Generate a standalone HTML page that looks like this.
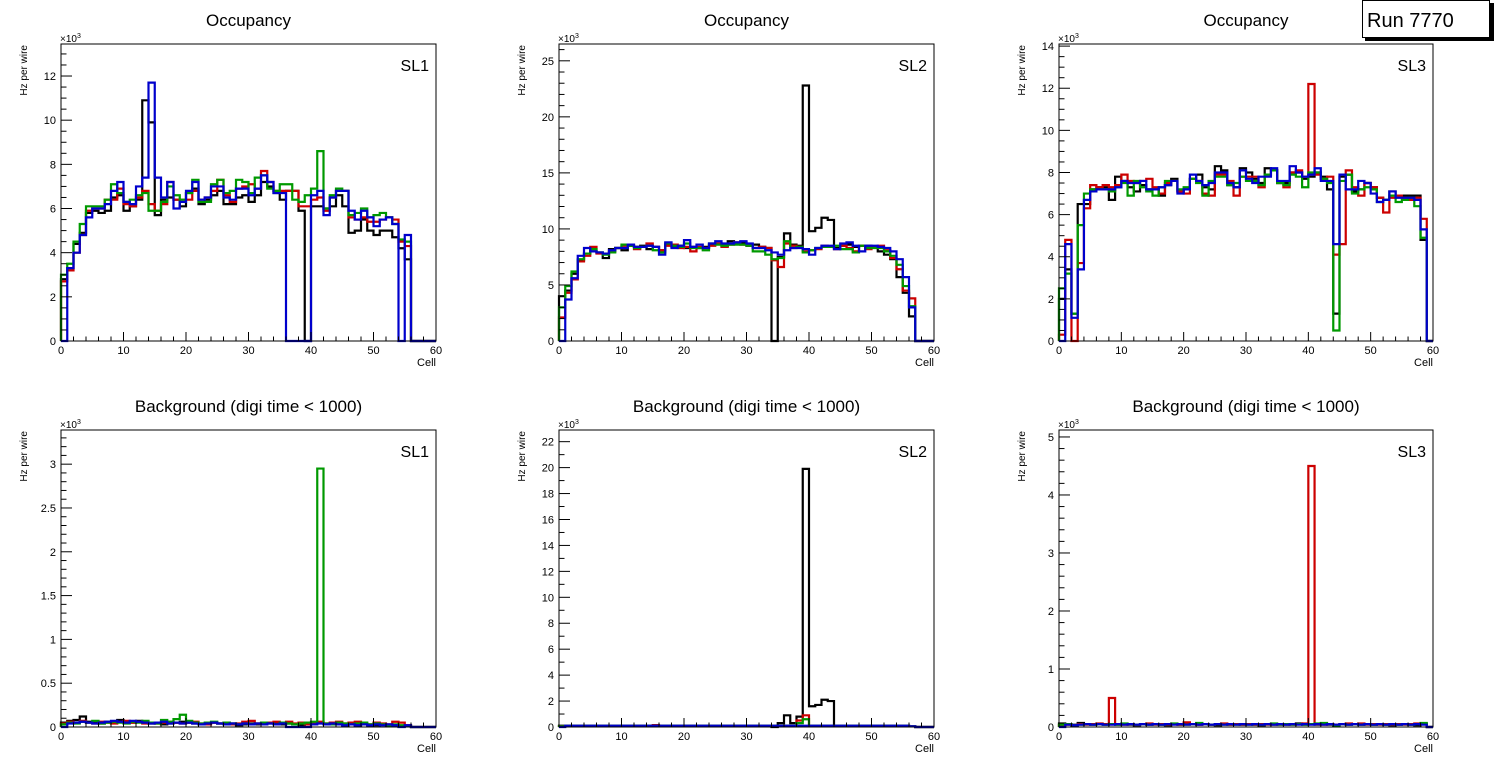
<!DOCTYPE html>
<html><head><meta charset="utf-8"><style>
body{margin:0;background:#fff;width:1496px;height:772px;overflow:hidden;font-family:"Liberation Sans",sans-serif}
svg{position:absolute;left:0;top:0}
</style></head><body>
<svg id="c" width="1496" height="772" xmlns="http://www.w3.org/2000/svg"></svg>
<script>
// ---- data (units of 10^3 Hz per wire), 60 cells each ----
const cells = 60;
const occ1_black=[2.8,3.3,4.4,4.9,5.8,5.9,5.8,5.9,6.5,6.6,5.9,6.1,6.4,10.9,9.9,5.7,6.4,6.5,6.4,6.1,6.7,6.9,6.2,6.4,6.6,6.8,6.2,6.2,6.5,6.6,6.3,6.6,7.2,7.0,6.7,6.4,6.8,6.8,5.9,0,6.1,6.1,6.0,6.1,6.6,6.1,4.9,5.0,5.5,5.0,4.8,5.0,5.0,4.7,4.2,3.7,0,0,0,0];
const occ1_red=[2.7,3.2,4.0,4.8,5.9,6.0,6.0,6.4,6.4,6.9,6.2,6.1,6.5,6.8,6.2,5.9,6.2,7.2,6.4,6.4,6.4,6.8,6.4,6.5,6.8,7.3,6.6,6.3,6.9,7.0,7.1,6.9,7.7,7.2,6.8,6.8,6.8,6.8,6.1,6.1,6.4,6.5,5.9,6.5,6.8,6.8,5.6,5.5,5.6,5.4,5.4,5.5,5.6,5.5,4.5,4.3,0,0,0,0];
const occ1_green=[3.0,3.5,4.5,5.3,6.1,6.1,6.1,6.4,7.1,6.7,6.3,6.4,6.6,6.7,5.9,5.9,6.3,7.0,6.6,6.4,6.7,7.3,6.3,6.3,7.1,7.3,6.7,6.8,7.3,7.2,6.7,7.4,7.5,6.9,6.8,7.1,7.1,6.4,6.3,6.6,6.9,8.6,6.0,6.6,6.9,6.8,5.7,5.8,6.0,5.6,5.7,5.8,5.6,5.3,4.6,4.5,0,0,0,0];
const occ1_blue=[0,3.3,4.0,4.8,5.6,6.0,6.0,6.2,6.8,7.2,6.3,6.2,7.0,7.4,11.7,7.4,6.5,7.2,6.0,6.3,6.8,7.2,6.4,6.5,7.0,7.0,6.5,6.4,6.9,6.9,6.6,6.9,7.5,7.2,6.7,6.7,0,0,0,0,6.6,6.8,5.7,6.5,6.8,6.8,5.9,5.5,5.9,5.6,5.2,5.5,5.6,5.3,0,4.8,0,0,0,0];

const occ2_black=[4.0,4.5,6.0,7.2,7.8,8.0,7.9,7.4,8.2,8.3,8.1,8.5,8.4,8.5,8.2,8.4,8.1,8.6,8.4,8.5,8.3,8.4,8.3,8.4,8.6,8.7,8.5,8.9,8.7,8.8,8.5,8.6,8.4,8.3,0,7.5,9.6,8.6,8.5,22.8,9.8,10.1,11.0,10.8,8.3,8.5,8.6,8.4,8.5,8.5,8.4,8.0,7.7,7.3,5.7,4.3,2.2,0,0,0];
const occ2_red=[2.1,4.3,5.5,7.1,7.6,8.4,7.8,7.8,8.0,8.3,8.5,8.5,8.2,8.4,8.7,8.4,8.1,8.5,8.6,8.3,8.4,8.0,8.4,8.3,8.5,8.7,8.4,8.6,8.8,8.6,8.5,8.3,8.4,8.3,7.2,6.6,8.7,8.5,8.4,8.0,8.1,8.2,8.5,8.4,8.2,8.5,8.3,8.0,8.5,8.2,8.4,8.5,8.1,7.4,6.4,4.5,3.8,0,0,0];
const occ2_green=[3.0,4.9,6.2,7.3,7.8,8.2,7.9,7.7,7.9,8.3,8.6,8.5,8.3,8.4,8.5,8.1,7.9,8.7,8.5,8.4,8.7,8.3,8.3,8.1,8.7,8.6,8.5,8.6,8.6,8.6,8.5,8.0,8.0,7.7,7.3,7.4,8.9,8.3,8.4,7.9,8.1,8.3,8.4,8.4,8.5,8.2,8.2,7.9,8.5,8.3,8.3,8.3,8.0,7.6,6.8,4.9,3.1,0,0,0];
const occ2_blue=[0,3.7,5.6,7.6,8.3,8.0,7.9,7.8,8.1,8.3,8.3,8.6,8.4,8.4,8.5,8.4,7.7,8.8,8.3,8.5,9.0,8.4,8.6,8.3,8.7,8.9,8.7,8.7,8.8,8.9,8.7,8.3,8.3,8.1,7.9,7.7,8.1,8.3,8.3,8.2,7.7,8.3,8.5,8.5,8.2,8.7,8.8,8.5,8.0,8.5,8.5,8.4,8.3,8.0,7.3,5.7,3.0,0,0,0];

const occ3_black=[2.0,3.4,1.3,6.5,6.5,7.2,7.3,7.3,6.7,7.8,7.6,7.3,7.1,7.4,7.2,7.2,6.9,7.4,7.7,7.1,7.2,7.7,7.9,7.3,7.2,8.3,8.1,7.4,7.3,8.2,8.0,7.7,7.5,8.2,8.1,7.5,7.5,8.0,8.0,7.7,7.8,8.0,7.8,7.2,1.3,7.8,7.9,7.1,7.2,7.5,7.3,6.8,6.7,7.1,6.9,6.9,6.9,6.9,4.8,0];
const occ3_red=[0.3,4.8,0,3.7,6.3,7.4,7.3,7.4,7.3,7.4,7.9,7.6,7.5,7.6,7.7,7.3,7.0,7.5,7.6,7.1,7.0,7.7,7.6,7.0,6.9,7.9,7.9,7.6,6.9,7.8,7.8,7.8,7.3,7.9,8.1,7.5,7.3,8.0,8.1,7.8,12.2,7.9,7.7,7.8,4.1,4.6,8.1,7.3,6.9,7.5,7.3,6.8,6.1,6.8,6.9,6.8,6.7,6.8,5.8,0];
const occ3_green=[2.5,3.2,1.3,5.5,7.0,7.2,7.2,7.2,7.1,7.3,7.5,6.9,7.6,7.3,7.1,6.9,7.3,7.6,7.6,7.2,7.3,7.7,7.5,6.9,7.6,7.8,7.8,7.4,7.5,7.8,7.6,7.6,7.4,7.9,8.1,7.5,7.4,7.9,7.8,7.3,8.0,8.0,7.7,7.5,0.5,7.6,7.9,7.0,7.2,7.3,7.2,6.6,6.7,6.9,6.6,6.7,6.8,6.4,4.9,0];
const occ3_blue=[0,4.6,1.1,3.4,6.7,7.1,7.2,7.2,7.2,7.3,7.6,7.5,7.5,7.6,7.2,7.2,7.3,7.4,7.6,7.0,7.2,7.9,7.6,7.4,7.5,8.0,8.0,7.5,7.3,8.1,7.7,7.5,7.8,7.8,8.2,7.6,7.6,8.3,8.0,7.8,7.9,8.2,7.6,7.6,4.6,7.9,7.2,7.2,7.6,7.5,7.0,6.6,6.7,7.1,6.8,6.8,6.8,6.7,5.3,0];

const bkg1_black=[0.05,0.07,0.08,0.12,0.06,0.05,0.04,0.06,0.05,0.08,0.06,0.05,0.07,0.05,0.04,0.05,0.03,0.04,0.05,0.06,0.05,0.04,0.03,0.04,0.05,0.04,0.03,0.04,0.02,0.03,0.04,0.03,0.04,0.05,0.04,0.03,0.04,0.03,0.02,0.03,0.04,0.05,0.03,0.04,0.03,0.02,0.03,0.02,0.03,0.02,0.02,0.03,0.02,0.02,0.01,0.01,0,0,0,0];
const bkg1_red=[0.04,0.06,0.05,0.07,0.05,0.04,0.06,0.05,0.04,0.06,0.07,0.05,0.06,0.04,0.05,0.04,0.05,0.06,0.05,0.04,0.05,0.06,0.04,0.03,0.05,0.04,0.05,0.03,0.04,0.06,0.07,0.04,0.03,0.05,0.06,0.05,0.06,0.04,0.05,0.03,0.04,0.06,0.04,0.05,0.06,0.04,0.05,0.06,0.04,0.03,0.05,0.04,0.03,0.06,0.05,0.02,0,0,0,0];
const bkg1_green=[0.03,0.05,0.04,0.06,0.05,0.07,0.04,0.05,0.06,0.05,0.04,0.06,0.05,0.07,0.05,0.04,0.08,0.06,0.09,0.14,0.07,0.05,0.04,0.05,0.06,0.04,0.05,0.04,0.03,0.04,0.03,0.04,0.05,0.04,0.03,0.05,0.04,0.03,0.04,0.05,0.06,2.95,0.04,0.03,0.05,0.04,0.03,0.04,0.05,0.03,0.04,0.03,0.02,0.03,0.02,0.01,0,0,0,0];
const bkg1_blue=[0,0.04,0.05,0.06,0.05,0.04,0.05,0.06,0.07,0.06,0.05,0.07,0.06,0.05,0.04,0.05,0.06,0.04,0.05,0.04,0.05,0.04,0.03,0.04,0.05,0.04,0.03,0.04,0.03,0.04,0.03,0.04,0.03,0.04,0.03,0.04,0,0,0,0,0.03,0.04,0.03,0.04,0.03,0.02,0.03,0.02,0.03,0.02,0.03,0.02,0.03,0.02,0,0.02,0,0,0,0];

const bkg2_black=[0.1,0.1,0.1,0.1,0.1,0.1,0.1,0.1,0.1,0.1,0.1,0.1,0.1,0.1,0.1,0.1,0.1,0.1,0.1,0.1,0.1,0.1,0.1,0.1,0.1,0.1,0.1,0.1,0.1,0.1,0.1,0.1,0.1,0.1,0,0.3,0.9,0.3,0.8,19.9,1.6,1.7,2.1,2.0,0.1,0.1,0.1,0.1,0.1,0.1,0.1,0.1,0.1,0.1,0.1,0.1,0.05,0,0,0];
const bkg2_red=[0.05,0.1,0.1,0.1,0.1,0.1,0.1,0.1,0.1,0.1,0.1,0.1,0.1,0.1,0.1,0.15,0.1,0.1,0.1,0.1,0.1,0.1,0.1,0.1,0.1,0.1,0.1,0.1,0.1,0.1,0.1,0.1,0.1,0.1,0.1,0.1,0.1,0.1,0.5,0.9,0.1,0.1,0.1,0.1,0.1,0.1,0.1,0.1,0.1,0.1,0.1,0.1,0.1,0.1,0.1,0.1,0.05,0,0,0];
const bkg2_green=[0.05,0.1,0.1,0.1,0.1,0.1,0.1,0.1,0.1,0.1,0.1,0.1,0.1,0.1,0.1,0.1,0.1,0.1,0.1,0.1,0.1,0.1,0.1,0.1,0.1,0.1,0.1,0.1,0.1,0.1,0.1,0.1,0.1,0.1,0.1,0.1,0.1,0.1,0.3,0.6,0.1,0.1,0.1,0.1,0.1,0.1,0.1,0.1,0.1,0.1,0.1,0.1,0.1,0.1,0.1,0.1,0.05,0,0,0];
const bkg2_blue=[0,0.1,0.1,0.1,0.1,0.1,0.1,0.1,0.1,0.1,0.1,0.1,0.1,0.1,0.1,0.1,0.1,0.1,0.1,0.1,0.1,0.1,0.1,0.1,0.1,0.1,0.1,0.1,0.1,0.1,0.1,0.1,0.1,0.1,0.1,0.1,0.1,0.1,0.1,0.1,0.1,0.1,0.1,0.1,0.1,0.1,0.1,0.1,0.1,0.1,0.1,0.1,0.1,0.1,0.1,0.1,0.05,0,0,0];

const bkg3_black=[0.06,0.05,0.04,0.07,0.05,0.04,0.05,0.04,0.05,0.04,0.05,0.04,0.03,0.05,0.04,0.05,0.04,0.03,0.05,0.04,0.06,0.05,0.04,0.05,0.04,0.03,0.05,0.04,0.05,0.04,0.05,0.04,0.03,0.05,0.04,0.05,0.04,0.05,0.06,0.04,0.05,0.04,0.05,0.04,0.03,0.05,0.04,0.05,0.04,0.05,0.04,0.05,0.04,0.03,0.04,0.05,0.04,0.03,0.05,0];
const bkg3_red=[0.03,0.04,0.02,0.05,0.04,0.05,0.06,0.05,0.5,0.05,0.04,0.05,0.04,0.05,0.06,0.04,0.05,0.04,0.05,0.04,0.08,0.05,0.04,0.05,0.04,0.05,0.06,0.04,0.05,0.04,0.05,0.04,0.05,0.04,0.05,0.04,0.05,0.04,0.05,0.06,4.5,0.05,0.04,0.05,0.04,0.05,0.06,0.05,0.06,0.04,0.05,0.04,0.05,0.04,0.05,0.04,0.05,0.06,0.05,0];
const bkg3_green=[0.04,0.05,0.03,0.04,0.05,0.04,0.05,0.04,0.05,0.04,0.06,0.05,0.04,0.05,0.04,0.05,0.04,0.05,0.06,0.05,0.04,0.05,0.07,0.05,0.04,0.05,0.04,0.05,0.04,0.05,0.04,0.05,0.04,0.05,0.06,0.04,0.05,0.04,0.05,0.04,0.05,0.06,0.07,0.05,0.01,0.05,0.04,0.05,0.04,0.05,0.04,0.05,0.04,0.05,0.04,0.05,0.04,0.05,0.07,0];
const bkg3_blue=[0,0.04,0.03,0.04,0.05,0.04,0.05,0.04,0.04,0.05,0.04,0.05,0.04,0.05,0.04,0.05,0.04,0.05,0.04,0.05,0.04,0.05,0.04,0.05,0.04,0.05,0.04,0.05,0.04,0.05,0.04,0.05,0.04,0.05,0.04,0.05,0.04,0.05,0.04,0.05,0.04,0.05,0.04,0.05,0.04,0.05,0.04,0.05,0.04,0.05,0.04,0.05,0.04,0.05,0.04,0.05,0.04,0.05,0.04,0];

const xTickLabels=["0","10","20","30","40","50","60"];
const seriesColors=["#000000","#cc0000","#009900","#0000cc"];
const seriesNames=["black","red","green","blue"];

const panels=[
 {id:"occ-sl1",title:"Occupancy",sl:"SL1",x0:61,x1:436,y0:44,y1:341,ymax:13.45,major:2,minor:4,fmt:v=>String(v),series:[occ1_black,occ1_red,occ1_green,occ1_blue]},
 {id:"occ-sl2",title:"Occupancy",sl:"SL2",x0:559,x1:934,y0:44,y1:341,ymax:26.5,major:5,minor:5,fmt:v=>String(v),series:[occ2_black,occ2_red,occ2_green,occ2_blue]},
 {id:"occ-sl3",title:"Occupancy",sl:"SL3",x0:1059,x1:1433,y0:44,y1:341,ymax:14.1,major:2,minor:4,fmt:v=>String(v),series:[occ3_black,occ3_red,occ3_green,occ3_blue]},
 {id:"bkg-sl1",title:"Background (digi time < 1000)",sl:"SL1",x0:61,x1:436,y0:430,y1:727,ymax:3.39,major:0.5,minor:5,fmt:v=>String(+v.toFixed(1)),series:[bkg1_black,bkg1_red,bkg1_green,bkg1_blue]},
 {id:"bkg-sl2",title:"Background (digi time < 1000)",sl:"SL2",x0:559,x1:934,y0:430,y1:727,ymax:22.9,major:2,minor:2,fmt:v=>String(v),series:[bkg2_black,bkg2_red,bkg2_green,bkg2_blue]},
 {id:"bkg-sl3",title:"Background (digi time < 1000)",sl:"SL3",x0:1059,x1:1433,y0:430,y1:727,ymax:5.12,major:1,minor:5,fmt:v=>String(v),series:[bkg3_black,bkg3_red,bkg3_green,bkg3_blue]},
];

const NS="http://www.w3.org/2000/svg";
const svg=document.getElementById('c');
function mk(tag,attrs,parent){const e=document.createElementNS(NS,tag);for(const k in attrs)e.setAttribute(k,attrs[k]);(parent||svg).appendChild(e);return e;}

panels.forEach(p=>{
 const g=mk('g',{});
 
 
 const xs=v=>p.x0+(v/cells)*(p.x1-p.x0);
 const ys=v=>p.y1-(Math.min(v,p.ymax)/p.ymax)*(p.y1-p.y0);
 const t=mk('text',{x:(p.x0+p.x1)/2,y:p.y0-18,'text-anchor':'middle','font-size':17},g);
 t.textContent=p.title;
 
 
 p.series.forEach((arr,si)=>{
  let d="M"+xs(0)+","+ys(0);
  for(let i=0;i<arr.length;i++){d+=" L"+xs(i)+","+ys(arr[i])+" L"+xs(i+1)+","+ys(arr[i]);}
  d+=" L"+xs(cells)+","+ys(0);
  const path=mk('path',{d:d,fill:'none',stroke:seriesColors[si],'stroke-width':2.2,'stroke-linejoin':'miter'},g);
  
  
 });
 const fr=mk('rect',{x:p.x0,y:p.y0,width:p.x1-p.x0,height:p.y1-p.y0,fill:'none',stroke:'#000','stroke-width':1},g);
 
 
 for(let v=0;v<=cells;v+=2){
  const len=(v%10===0)?9:4.5;
  mk('line',{x1:xs(v),x2:xs(v),y1:p.y1,y2:p.y1-len,stroke:'#000','stroke-width':1},g);
 }
 xTickLabels.forEach((lab,i)=>{
  const tx=mk('text',{x:xs(i*10),y:p.y1+13,'text-anchor':'middle','font-size':11},g);
  tx.textContent=lab;
  
  
 });
 const xt=mk('text',{x:p.x1,y:p.y1+25,'text-anchor':'end','font-size':11},g);
 xt.textContent="Cell";
 
 
 const step=p.major/p.minor;
 for(let k=0;k*step<=p.ymax+1e-9;k++){
  const v=k*step, maj=(k%p.minor===0);
  mk('line',{x1:p.x0,x2:p.x0+(maj?11:5.5),y1:ys(v),y2:ys(v),stroke:'#000','stroke-width':1},g);
  if(maj){
   const ty=mk('text',{x:p.x0-5,y:ys(v)+4,'text-anchor':'end','font-size':11},g);
   ty.textContent=p.fmt(v);
   
   
  }
 }
 const ex=mk('text',{x:p.x0-1,y:p.y0-2,'font-size':10},g);
 ex.innerHTML='×10<tspan dy="-4" font-size="7">3</tspan>';
 
 
 const yt=mk('text',{x:0,y:0,'text-anchor':'end','font-size':10,transform:`translate(${p.x0-34},${p.y0+1}) rotate(-90)`},g);
 yt.textContent="Hz per wire";
 
 
 const sl=mk('text',{x:p.x1-7,y:p.y0+27,'text-anchor':'end','font-size':16},g);
 sl.textContent=p.sl;
 
 
});

const rb=mk('g',{});


mk('rect',{x:1365,y:3,width:129,height:38,fill:'#000'},rb);
mk('rect',{x:1362.5,y:0.5,width:127,height:37,fill:'#fff',stroke:'#000','stroke-width':1},rb);
const rt=mk('text',{x:1367,y:27,'font-size':20},rb);
rt.textContent="Run 7770";


</script>
</body></html>
